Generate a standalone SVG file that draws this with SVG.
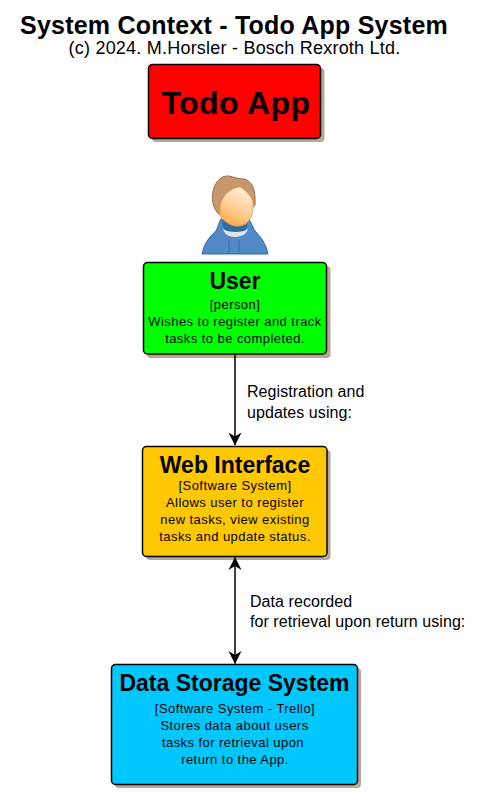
<svg xmlns="http://www.w3.org/2000/svg" width="484" height="809" viewBox="0 0 484 809">
<style>
text{font-family:"Liberation Sans",Arial,sans-serif;fill:#000}
.c{text-anchor:middle}
.box{stroke:#000;stroke-width:1.5}
.shadow{fill:#b5a995}
.t{font-weight:bold;font-size:23px}
.d{font-size:13px;letter-spacing:.44px}
.l{font-size:16px;letter-spacing:.06px}
.conn{fill:none;stroke:#000;stroke-width:1.5}
</style>
<defs>
<linearGradient id="face" x1=".75" y1="0" x2=".35" y2="1"><stop offset="0" stop-color="#fff0dc"/><stop offset=".55" stop-color="#ffd09a"/><stop offset="1" stop-color="#ffab4c"/></linearGradient>
<marker id="a" viewBox="0 0 13 14" refX="12.500" refY="7" markerWidth="13" markerHeight="14" markerUnits="userSpaceOnUse" orient="auto-start-reverse"><path d="M0 0.500L13 7L0 13.500L4 7Z" fill="#000"/></marker>
</defs>
<rect width="484" height="809" fill="#fff"/>
<g id="title">
<text class="c" x="234" y="34" style="font-size:25px;font-weight:bold;letter-spacing:.22px">System Context - Todo App System</text>
<text class="c" x="234.500" y="54" style="font-size:18px;letter-spacing:.22px">(c) 2024. M.Horsler - Bosch Rexroth Ltd.</text>
</g>
<g id="todo-app">
<rect class="shadow" x="152" y="68" width="172.500" height="74" rx="4"/>
<rect class="box" x="148.500" y="64.500" width="172" height="74" rx="4" fill="#f00"/>
<text class="c" x="236" y="114" style="font-size:32px;font-weight:bold;letter-spacing:.4px">Todo App</text>
</g>
<g id="person">
<path d="M202 254C204 244 209 237 216 231C218 227 219 222 221 219L249 219C251 222 253 228 255 231C261 237 266 244 268 254Z" fill="#5089c6" stroke="#2e6da4"/>
<path d="M222 220C222 230 228 234 235 234C242 234 248 230 248 220Z" fill="#2e6da4"/>
<path d="M223 229C228 233 243 233 248 229C247 234 241 237 235 237C229 237 224 234 223 229Z" fill="#e4e4e4"/>
<path d="M229 240V254M239 240V254" stroke="#2e6da4" fill="none" stroke-width=".8"/>
<path d="M220 215C214 210 212 203 212.500 196C213 184 220 175 229 176C234 177 238 179 244 179C252 181 256 189 255 205L252 208Z" fill="#c4986c" stroke="#9a6f45"/>
<path d="M220 215C220 209 220 204 222 200C226 192 234 187 240 187C247 191 252 197 253 203C254 213 249 224 243 225C238 227 232 226 228 223C224 221 221 218 220 215Z" fill="url(#face)" stroke="#f0a040"/>
</g>
<g id="user">
<rect class="shadow" x="147" y="266" width="183.500" height="92" rx="4"/>
<rect class="box" x="143.500" y="262.500" width="183" height="91.500" rx="4" fill="#0f0"/>
<text class="c t" x="235" y="289">User</text>
<text class="c d" x="235" y="309">[person]</text>
<text class="c d" x="235" y="326">Wishes to register and track</text>
<text class="c d" x="235" y="343">tasks to be completed.</text>
</g>
<g id="web-interface">
<rect class="shadow" x="146" y="450" width="184.500" height="110" rx="4"/>
<rect class="box" x="142.500" y="446.500" width="184.500" height="110" rx="4" fill="#ffc800"/>
<text class="c t" x="235" y="473">Web Interface</text>
<text class="c d" x="235" y="490">[Software System]</text>
<text class="c d" x="235" y="507">Allows user to register</text>
<text class="c d" x="235" y="524">new tasks, view existing</text>
<text class="c d" x="235" y="541">tasks and update status.</text>
</g>
<g id="data-storage">
<rect class="shadow" x="115" y="668" width="246" height="120" rx="4"/>
<rect class="box" x="111.500" y="664.500" width="246" height="120" rx="4" fill="#00c8ff"/>
<text class="c t" x="234.500" y="691">Data Storage System</text>
<text class="c d" x="235" y="713">[Software System - Trello]</text>
<text class="c d" x="234.500" y="730">Stores data about users</text>
<text class="c d" x="233" y="747">tasks for retrieval upon</text>
<text class="c d" x="235" y="764">return to the App.</text>
</g>
<g id="connectors">
<path class="conn" d="M235 354V445" marker-end="url(#a)"/>
<path class="conn" d="M235 557.500V663.500" marker-start="url(#a)" marker-end="url(#a)"/>
</g>
<g id="labels">
<text class="l" x="247" y="397">Registration and</text>
<text class="l" x="247" y="418">updates using:</text>
<text class="l" x="250" y="607">Data recorded</text>
<text class="l" x="250" y="627">for retrieval upon return using:</text>
</g>
</svg>
